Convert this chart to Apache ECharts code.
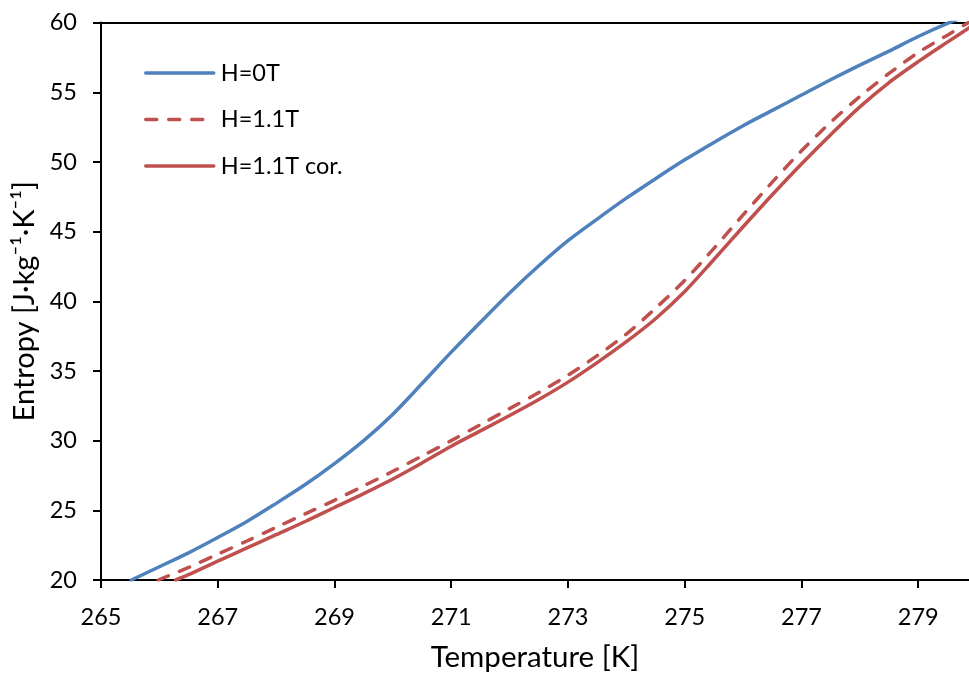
<!DOCTYPE html>
<html>
<head>
<meta charset="utf-8">
<script src="https://cdn.jsdelivr.net/npm/echarts@6/dist/echarts.min.js"></script>
<style>
html,body{margin:0;padding:0;background:#fff;}
#chart{width:969px;height:677px;}
</style>
</head>
<body>
<div id="chart"></div>
<script>
// Tick labels
const xTicks = [265, 267, 269, 271, 273, 275, 277, 279];
const yTicks = [20, 25, 30, 35, 40, 45, 50, 55, 60];

// H=0T
const tempH0 = [265.52, 266, 266.5, 267, 267.5, 268, 268.5, 269, 269.5, 270, 270.5, 271, 271.5, 272, 272.5, 273, 273.5, 274, 274.5, 275, 275.5, 276, 276.5, 277, 277.5, 278, 278.5, 279, 279.53, 279.9];
const entH0 = [20, 20.95, 21.95, 23.05, 24.2, 25.5, 26.85, 28.35, 30.0, 31.9, 34.1, 36.35, 38.5, 40.6, 42.55, 44.35, 45.9, 47.4, 48.8, 50.15, 51.4, 52.6, 53.7, 54.8, 55.9, 56.95, 57.95, 59.0, 60, 60.6];

// H=1.1T (dashed)
const tempH11 = [265.98, 266.5, 267, 267.5, 268, 268.5, 269, 269.5, 270, 270.5, 271, 271.5, 272, 272.5, 273, 273.5, 274, 274.5, 275, 275.5, 276, 276.5, 277, 277.5, 278, 278.5, 279, 279.5, 279.9];
const entH11 = [20, 20.9, 21.85, 22.8, 23.78, 24.75, 25.72, 26.75, 27.8, 28.9, 30.0, 31.15, 32.3, 33.45, 34.7, 36.1, 37.65, 39.5, 41.5, 43.8, 46.2, 48.55, 50.8, 52.85, 54.7, 56.35, 57.85, 59.1, 60.1];

// H=1.1T cor. (solid)
const tempH11c = [266.28, 266.5, 267, 267.5, 268, 268.5, 269, 269.5, 270, 270.5, 271, 271.5, 272, 272.5, 273, 273.5, 274, 274.5, 275, 275.5, 276, 276.5, 277, 277.5, 278, 278.5, 279, 279.5, 279.9];
const entH11c = [20, 20.38, 21.35, 22.3, 23.25, 24.2, 25.2, 26.2, 27.25, 28.4, 29.6, 30.7, 31.8, 32.95, 34.2, 35.6, 37.1, 38.75, 40.7, 43.0, 45.35, 47.65, 49.85, 51.95, 53.95, 55.7, 57.2, 58.6, 59.7];

const pairs = (xs, ys) => xs.map((x, i) => [x, ys[i]]);

const FONT = 'Lato';
const chart = echarts.init(document.getElementById('chart'));
chart.setOption({
  animation: false,
  backgroundColor: '#ffffff',
  grid: { left: 101, right: 0, top: 22.6, bottom: 96.4, containLabel: false },
  legend: {
    orient: 'vertical',
    left: 139,
    top: 56,
    itemWidth: 68,
    itemHeight: 24,
    itemGap: 22.5,
    itemStyle: { opacity: 0 },
    lineStyle: { width: 3.5 },
    textStyle: { fontFamily: FONT, fontSize: 23.5, color: '#000', padding: [0, 0, 0, 2] },
    data: ['H=0T', 'H=1.1T', 'H=1.1T cor.']
  },
  xAxis: [{
    type: 'value',
    min: 265,
    max: 279.87,
    name: 'Temperature [K]',
    nameLocation: 'middle',
    nameGap: 62,
    nameTextStyle: { fontFamily: FONT, fontSize: 29.5, color: '#000' },
    axisLine: { show: true, onZero: false, lineStyle: { color: '#000', width: 2 } },
    axisTick: { show: true, inside: false, length: 8, customValues: xTicks, lineStyle: { color: '#000', width: 2 } },
    axisLabel: { margin: 25, customValues: xTicks, fontFamily: FONT, fontSize: 23.5, color: '#000' },
    splitLine: { show: false }
  }, {
    type: 'value',
    position: 'top',
    min: 265,
    max: 279.87,
    axisLine: { show: true, lineStyle: { color: '#000', width: 2 } },
    axisTick: { show: false },
    axisLabel: { show: false },
    splitLine: { show: false }
  }],
  yAxis: {
    type: 'value',
    min: 20,
    max: 60,
    interval: 5,
    name: 'Entropy [J·kg⁻¹·K⁻¹]',
    nameLocation: 'middle',
    nameGap: 61,
    nameTextStyle: { fontFamily: FONT, fontSize: 29, color: '#000' },
    axisLine: { show: true, onZero: false, lineStyle: { color: '#000', width: 2 } },
    axisTick: { show: true, inside: false, length: 8, lineStyle: { color: '#000', width: 2 } },
    axisLabel: { margin: 24, fontFamily: FONT, fontSize: 23.5, color: '#000' },
    splitLine: { show: false }
  },
  series: [
    {
      name: 'H=0T', type: 'line', smooth: 0.3, symbol: 'none', clip: true,
      data: pairs(tempH0, entH0),
      color: '#4F81BD',
      lineStyle: { color: '#4F81BD', width: 3.5, cap: 'round' }
    },
    {
      name: 'H=1.1T', type: 'line', smooth: 0.3, symbol: 'none', clip: true,
      data: pairs(tempH11, entH11),
      color: '#C0504D',
      lineStyle: { color: '#C0504D', width: 3.5, type: [11, 12], cap: 'round' }
    },
    {
      name: 'H=1.1T cor.', type: 'line', smooth: 0.3, symbol: 'none', clip: true,
      data: pairs(tempH11c, entH11c),
      color: '#C0504D',
      lineStyle: { color: '#C0504D', width: 3.5, cap: 'round' }
    }
  ]
});
</script>
</body>
</html>
